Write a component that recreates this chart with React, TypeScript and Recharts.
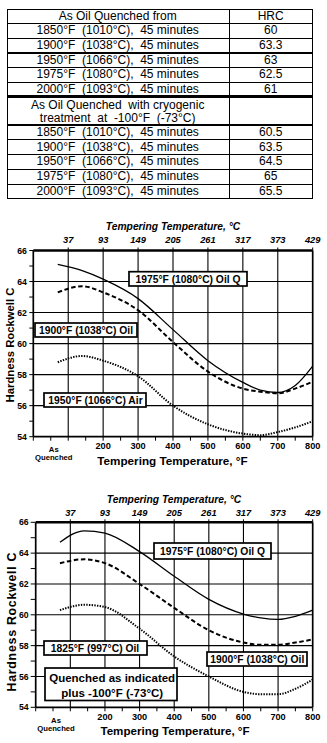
import React from 'react';
import { LineChart, Line, XAxis, YAxis, ReferenceLine } from 'recharts';

const FONT = '"Liberation Sans", Arial, Helvetica, sans-serif';

// ---------- table data ----------
const tableHeader = ['As Oil Quenched from', 'HRC'];
const oilQuenchConditions = [
  '1850°F  (1010°C),  45 minutes',
  '1900°F  (1038°C),  45 minutes',
  '1950°F  (1066°C),  45 minutes',
  '1975°F  (1080°C),  45 minutes',
  '2000°F  (1093°C),  45 minutes',
];
const oilQuenchHrc = ['60', '63.3', '63', '62.5', '61'];
const cryoHeaderLines = ['As Oil Quenched  with cryogenic', 'treatment  at  -100°F  (-73°C)'];
const cryoConditions = [
  '1850°F  (1010°C),  45 minutes',
  '1900°F  (1038°C),  45 minutes',
  '1950°F  (1066°C),  45 minutes',
  '1975°F  (1080°C),  45 minutes',
  '2000°F  (1093°C),  45 minutes',
];
const cryoHrc = ['60.5', '63.5', '64.5', '65', '65.5'];

// ---------- chart data ----------
const temperaturesF = [70, 140, 200, 300, 400, 500, 600, 650, 700, 750, 800];
// chart 1
const c1Oil1975 = [65.1, 64.7, 64.15, 62.9, 60.9, 58.9, 57.5, 57.0, 56.85, 57.3, 58.55];
const c1Oil1900 = [63.3, 63.7, 63.3, 62.15, 60.1, 58.2, 57.1, 56.9, 56.8, 57.1, 57.55];
const c1Air1950 = [58.8, 59.2, 58.9, 57.9, 56.0, 54.8, 54.2, 54.1, 54.3, 54.6, 55.0];
// chart 2 (plus -100°F)
const c2Oil1975 = [64.7, 65.45, 65.3, 64.1, 62.5, 61.0, 60.05, 59.8, 59.7, 59.9, 60.3];
const c2Oil1900 = [63.35, 63.6, 63.35, 62.0, 60.45, 59.0, 58.2, 58.05, 58.05, 58.2, 58.4];
const c2Oil1825 = [60.3, 60.65, 60.5, 59.1, 57.3, 56.0, 55.0, 54.85, 54.85, 55.2, 55.8];

const fahrenheitTicks = [0, 50, 100, 150, 200, 250, 300, 350, 400, 450, 500, 550, 600, 650, 700, 750, 800];
const fahrenheitLabelTicks = [200, 300, 400, 500, 600, 700, 800];
const asQuenchedTick = 50;
const celsiusTickPositionsF = [100, 200, 300, 400, 500, 600, 700, 800];
const celsiusTickLabels = ['37', '93', '149', '205', '261', '317', '373', '429'];
const hrcTicks = [54, 55, 56, 57, 58, 59, 60, 61, 62, 63, 64, 65, 66];
const hrcGrid = [56, 58, 60, 62, 64];
const tempGrid = [100, 200, 300, 400, 500, 600, 700];

const chart1Data = temperaturesF.map((t, i) => ({ t, a: c1Oil1975[i], b: c1Oil1900[i], c: c1Air1950[i] }));
const chart2Data = temperaturesF.map((t, i) => ({ t, a: c2Oil1975[i], b: c2Oil1900[i], c: c2Oil1825[i] }));

const CelsiusTick = (props: any) => {
  const { x, y, payload, dyOff } = props;
  const i = celsiusTickPositionsF.indexOf(payload.value);
  return (
    <text x={x} y={y + dyOff} textAnchor="middle" fontFamily={FONT} fontSize={9.3} fontWeight="bold" fontStyle="italic" fill="#000">
      {i >= 0 ? celsiusTickLabels[i] : ''}
    </text>
  );
};

const FTick = (props: any) => {
  const { x, y, payload } = props;
  const v = payload.value;
  if (v === asQuenchedTick) {
    return (
      <g>
        <text x={x + 3} y={y + 11.3} textAnchor="middle" fontFamily={FONT} fontSize={7.7} fontWeight="bold" fill="#000">As</text>
        <text x={x + 3} y={y + 19.7} textAnchor="middle" fontFamily={FONT} fontSize={7.7} fontWeight="bold" fill="#000">Quenched</text>
      </g>
    );
  }
  if (fahrenheitLabelTicks.indexOf(v) >= 0) {
    return (
      <text x={x} y={y + 8.6} textAnchor="middle" fontFamily={FONT} fontSize={9.2} fontWeight="bold" fill="#000">{v}</text>
    );
  }
  return <g />;
};

const HrcTick = (props: any) => {
  const { x, y, payload, dxOff } = props;
  if (payload.value % 2 !== 0) return <g />;
  return (
    <text x={x + dxOff} y={y + 3.1} textAnchor="end" fontFamily={FONT} fontSize={8.7} fontWeight="bold" fill="#000">{payload.value}</text>
  );
};

function HardnessChart(p: { data: any[]; height: number; plotLeft: number; marginTop: number; bottomAxisH: number; celsiusDy: number; yTickSize: number; yLabelDx: number }) {
  return (
    <LineChart width={327} height={p.height} data={p.data} margin={{ top: p.marginTop, right: 14.3, bottom: 0, left: 0 }}>
      <XAxis
        xAxisId="c"
        orientation="top"
        type="number"
        dataKey="t"
        domain={[0, 800]}
        allowDataOverflow
        ticks={celsiusTickPositionsF}
        interval={0}
        height={30}
        tickSize={3}
        tickMargin={0}
        axisLine={{ stroke: '#000', strokeWidth: 2.6 }}
        tickLine={{ stroke: '#000', strokeWidth: 1 }}
        tick={(t: any) => <CelsiusTick {...t} dyOff={p.celsiusDy} />}
      />
      <XAxis
        xAxisId="f"
        orientation="bottom"
        type="number"
        dataKey="t"
        domain={[0, 800]}
        allowDataOverflow
        ticks={fahrenheitTicks}
        interval={0}
        height={p.bottomAxisH}
        tickSize={4}
        tickMargin={0}
        axisLine={{ stroke: '#000', strokeWidth: 1.7 }}
        tickLine={{ stroke: '#000', strokeWidth: 1 }}
        tick={(t: any) => <FTick {...t} />}
      />
      <YAxis
        yAxisId="h"
        type="number"
        domain={[54, 66]}
        allowDataOverflow
        ticks={hrcTicks}
        interval={0}
        width={p.plotLeft}
        tickSize={p.yTickSize}
        tickMargin={0}
        axisLine={{ stroke: '#000', strokeWidth: 1.7 }}
        tickLine={{ stroke: '#000', strokeWidth: 1 }}
        tick={(t: any) => <HrcTick {...t} dxOff={p.yLabelDx} />}
      />
      {hrcGrid.map((v) => (
        <ReferenceLine key={'hy' + v} xAxisId="f" yAxisId="h" y={v} stroke="#000" strokeWidth={1.1} />
      ))}
      {tempGrid.map((v) => (
        <ReferenceLine key={'vx' + v} xAxisId="f" yAxisId="h" x={v} stroke="#000" strokeWidth={1.1} />
      ))}
      <ReferenceLine xAxisId="f" yAxisId="h" x={800} stroke="#000" strokeWidth={1.7} />
      <Line xAxisId="f" yAxisId="h" dataKey="a" type="monotone" stroke="#000" strokeWidth={1.3} dot={false} activeDot={false} isAnimationActive={false} />
      <Line xAxisId="f" yAxisId="h" dataKey="b" type="monotone" stroke="#000" strokeWidth={2} strokeDasharray="4.5 2.6" dot={false} activeDot={false} isAnimationActive={false} />
      <Line xAxisId="f" yAxisId="h" dataKey="c" type="monotone" stroke="#000" strokeWidth={2} strokeDasharray="1.4 1.3" dot={false} activeDot={false} isAnimationActive={false} />
    </LineChart>
  );
}

function Callout(p: { x: number; y: number; w: number; h: number; cx: number; lines: string[]; baselines: number[]; fontSize: number }) {
  return (
    <g>
      <rect x={p.x} y={p.y} width={p.w} height={p.h} fill="#fff" stroke="#000" strokeWidth={1.7} />
      {p.lines.map((l, i) => (
        <text key={i} x={p.cx} y={p.baselines[i]} textAnchor="middle" fontFamily={FONT} fontSize={p.fontSize} fontWeight="bold" fill="#000">{l}</text>
      ))}
    </g>
  );
}

function HrcTable() {
  const top = 9.3;
  const left = 6.7;
  const width = 306;
  const col1 = 222;
  const rowH = 14.57;
  const cryoH = 28.3;
  const rowH2 = 14.8;
  const cell = (t: string, key: string, y: number, h: number, x: number, w: number) => (
    <div
      key={key}
      style={{
        position: 'absolute', left: x, top: y, width: w, height: h,
        display: 'flex', alignItems: 'center', justifyContent: 'center',
        fontSize: 12, whiteSpace: 'pre', lineHeight: '13.3px', textAlign: 'center',
      }}
    >
      {t}
    </div>
  );
  const items: any[] = [];
  const hLines: any[] = [];
  let y = top;
  items.push(cell(tableHeader[0], 'h0', y, rowH, left, col1));
  items.push(cell(tableHeader[1], 'h1', y, rowH, left + col1, width - col1));
  y += rowH;
  oilQuenchConditions.forEach((c, i) => {
    hLines.push({ y, w: 1.2 });
    items.push(cell(c, 'o' + i, y, rowH, left, col1));
    items.push(cell(oilQuenchHrc[i], 'oh' + i, y, rowH, left + col1, width - col1));
    y += rowH;
  });
  hLines.push({ y, w: 2.8 });
  items.push(cell(cryoHeaderLines.join('\n'), 'cr', y + 1, cryoH, left, col1));
  y += cryoH;
  cryoConditions.forEach((c, i) => {
    hLines.push({ y, w: 1.2 });
    items.push(cell(c, 'c' + i, y, rowH2, left, col1));
    items.push(cell(cryoHrc[i], 'ch' + i, y, rowH2, left + col1, width - col1));
    y += rowH2;
  });
  const bottom = y;
  return (
    <div style={{ position: 'absolute', left: 0, top: 0, width: 327, height: 205 }}>
      <div style={{ position: 'absolute', left: left, top: top, width: width, height: bottom - top, border: '1.3px solid #000', boxSizing: 'border-box' }} />
      <div style={{ position: 'absolute', left: left + col1, top: top, width: 1.2, height: bottom - top, background: '#000' }} />
      {hLines.map((l, i) => (
        <div key={'l' + i} style={{ position: 'absolute', left: left, top: l.y - l.w / 2, width: width, height: l.w, background: '#000' }} />
      ))}
      {items}
    </div>
  );
}

export default function App() {
  return (
    <div style={{ position: 'absolute', left: 0, top: 0, width: 327, height: 743, overflow: 'hidden', background: '#fff', fontFamily: FONT, color: '#000' }}>
      <HrcTable />
      <div style={{ position: 'absolute', left: 0, top: 205 }}>
        <HardnessChart data={chart1Data} height={270} plotLeft={33.3} marginTop={15.5} bottomAxisH={38.3} celsiusDy={-4.8} yTickSize={4} yLabelDx={-2.5} />
      </div>
      <div style={{ position: 'absolute', left: 0, top: 480 }}>
        <HardnessChart data={chart2Data} height={260} plotLeft={35.7} marginTop={12.3} bottomAxisH={32.7} celsiusDy={-3.6} yTickSize={5} yLabelDx={-2} />
      </div>
      <svg width={327} height={743} style={{ position: 'absolute', left: 0, top: 0, pointerEvents: 'none' }}>
        <text x={173} y={230.3} textAnchor="middle" fontFamily={FONT} fontSize={10.3} fontWeight="bold" fontStyle="italic">Tempering Temperature, °C</text>
        <text x={172.5} y={465.3} textAnchor="middle" fontFamily={FONT} fontSize={11.7} fontWeight="bold">Tempering Temperature, °F</text>
        <text transform="translate(14.2,345) rotate(-90)" textAnchor="middle" fontFamily={FONT} fontSize={11.3} fontWeight="bold">Hardness Rockwell C</text>
        <Callout x={129} y={271.7} w={118} h={14.3} cx={188} lines={['1975°F (1080°C) Oil Q']} baselines={[282.6]} fontSize={10.3} />
        <Callout x={35} y={323} w={102} h={14} cx={86} lines={['1900°F (1038°C) Oil']} baselines={[333.7]} fontSize={10.3} />
        <Callout x={44} y={393} w={102} h={14} cx={95.5} lines={['1950°F (1066°C) Air']} baselines={[403.7]} fontSize={10.3} />
        <text x={174} y={502.5} textAnchor="middle" fontFamily={FONT} fontSize={10.3} fontWeight="bold" fontStyle="italic">Tempering Temperature, °C</text>
        <text x={175} y={735.2} textAnchor="middle" fontFamily={FONT} fontSize={11.6} fontWeight="bold">Tempering Temperature, °F</text>
        <text transform="translate(16.2,622) rotate(-90)" textAnchor="middle" fontFamily={FONT} fontSize={12.4} fontWeight="bold" textLength={139} lengthAdjust="spacing">Hardness Rockwell C</text>
        <Callout x={154} y={543} w={117} h={16} cx={212.5} lines={['1975°F (1080°C) Oil Q']} baselines={[554.8]} fontSize={10.3} />
        <Callout x={44} y={641} w={103} h={14} cx={95} lines={['1825°F (997°C) Oil']} baselines={[651.8]} fontSize={10.3} />
        <Callout x={207} y={652} w={100} h={14} cx={257.3} lines={['1900°F (1038°C) Oil']} baselines={[662.8]} fontSize={10.3} />
        <Callout x={45} y={668} w={132} h={32.5} cx={112.2} lines={['Quenched as indicated', 'plus -100°F (-73°C)']} baselines={[682.4, 696.8]} fontSize={11.5} />
      </svg>
    </div>
  );
}
